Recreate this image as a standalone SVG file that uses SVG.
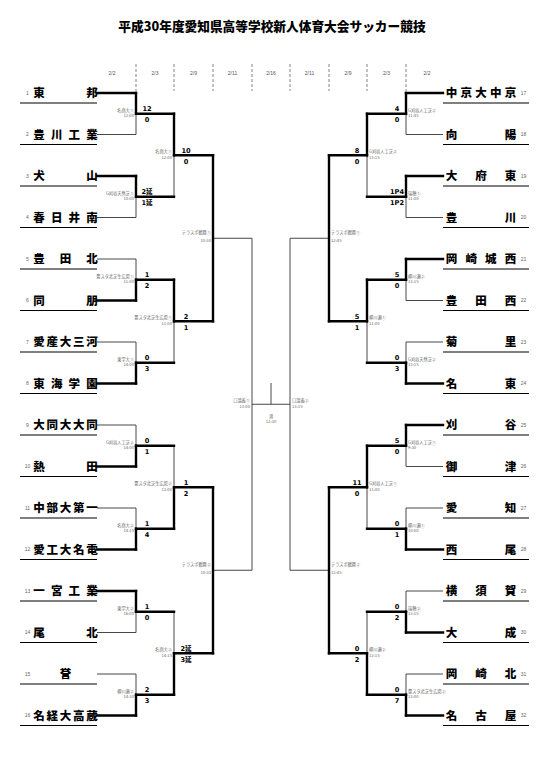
<svg xmlns="http://www.w3.org/2000/svg" width="545" height="757" viewBox="0 0 545 757">
<style>
.ttl{font-family:"Noto Sans CJK JP",sans-serif;font-weight:900;font-size:12.7px;text-anchor:middle;fill:#000}
.dt{font-family:"Liberation Sans",sans-serif;font-size:5px;text-anchor:middle;fill:#555}
.nm{font-family:"Noto Sans CJK JP",sans-serif;font-weight:900;font-size:11.5px;text-anchor:middle;fill:#000}
.no{font-family:"Liberation Sans",sans-serif;font-size:5px;text-anchor:middle;fill:#666}
.sc{font-family:"DejaVu Sans","Noto Sans CJK JP",sans-serif;font-weight:bold;font-size:6.6px;text-anchor:middle;fill:#000}
.vl{font-family:"Noto Sans CJK JP",sans-serif;font-size:4.2px;fill:#666}
.vr{text-anchor:end}
.vc{text-anchor:middle}
.ul{stroke:#000;stroke-width:1.2}
.th{stroke:#000;stroke-width:2.4;stroke-linecap:square;fill:none}
.tn{stroke:#333;stroke-width:0.9;fill:none}
.ds{stroke:#666;stroke-width:0.8;stroke-dasharray:3 2}
</style>
<rect width="545" height="757" fill="#fff"/>
<text class="ttl" x="272" y="31">平成30年度愛知県高等学校新人体育大会サッカー競技</text>
<g id="header">
<g class="ds">
<line x1="136" y1="64" x2="136" y2="91"/><line x1="174" y1="64" x2="174" y2="91"/><line x1="213" y1="64" x2="213" y2="91"/><line x1="252" y1="64" x2="252" y2="91"/><line x1="290" y1="64" x2="290" y2="91"/><line x1="329" y1="64" x2="329" y2="91"/><line x1="367" y1="64" x2="367" y2="91"/><line x1="406" y1="64" x2="406" y2="91"/>
</g>
<text class="dt" x="112" y="75">2/2</text><text class="dt" x="155" y="75">2/3</text><text class="dt" x="193.5" y="75">2/9</text><text class="dt" x="232.5" y="75">2/11</text><text class="dt" x="271" y="75">2/16</text><text class="dt" x="309.5" y="75">2/11</text><text class="dt" x="348" y="75">2/9</text><text class="dt" x="386.5" y="75">2/3</text><text class="dt" x="427" y="75">2/2</text>
</g>
<g id="connectors">
<g class="tn">
<line x1="97" y1="134.5" x2="136" y2="134.5"/><line x1="97" y1="217.5" x2="136" y2="217.5"/><line x1="97" y1="259" x2="136" y2="259"/><line x1="97" y1="342" x2="136" y2="342"/><line x1="97" y1="425" x2="136" y2="425"/><line x1="97" y1="508" x2="136" y2="508"/><line x1="97" y1="632.5" x2="136" y2="632.5"/><line x1="97" y1="674" x2="136" y2="674"/>
<line x1="136" y1="113.75" x2="136" y2="134.5"/><line x1="136" y1="196.75" x2="136" y2="217.5"/><line x1="136" y1="259" x2="136" y2="279.75"/><line x1="136" y1="342" x2="136" y2="362.75"/><line x1="136" y1="425" x2="136" y2="445.75"/><line x1="136" y1="508" x2="136" y2="528.75"/><line x1="136" y1="611.75" x2="136" y2="632.5"/><line x1="136" y1="674" x2="136" y2="694.75"/>
<line x1="174" y1="155.25" x2="174" y2="196.75"/><line x1="174" y1="321.25" x2="174" y2="362.75"/><line x1="174" y1="445.75" x2="174" y2="487.25"/><line x1="174" y1="611.75" x2="174" y2="653.25"/>
<line x1="213" y1="238.25" x2="252" y2="238.25"/><line x1="213" y1="570.25" x2="252" y2="570.25"/>
<line x1="252" y1="238.25" x2="252" y2="570.25"/>
<line x1="252" y1="404.25" x2="290" y2="404.25"/><line x1="271" y1="383" x2="271" y2="404.25"/>
<line x1="290" y1="238.25" x2="290" y2="570.25"/>
<line x1="329" y1="238.25" x2="290" y2="238.25"/><line x1="329" y1="570.25" x2="290" y2="570.25"/>
<line x1="367" y1="155.25" x2="367" y2="196.75"/><line x1="367" y1="321.25" x2="367" y2="362.75"/><line x1="367" y1="487.25" x2="367" y2="528.75"/><line x1="367" y1="611.75" x2="367" y2="653.25"/>
<line x1="406" y1="113.75" x2="406" y2="134.5"/><line x1="406" y1="196.75" x2="406" y2="217.5"/><line x1="406" y1="279.75" x2="406" y2="300.5"/><line x1="406" y1="342" x2="406" y2="362.75"/><line x1="406" y1="445.75" x2="406" y2="466.5"/><line x1="406" y1="508" x2="406" y2="528.75"/><line x1="406" y1="591" x2="406" y2="611.75"/><line x1="406" y1="674" x2="406" y2="694.75"/>
<line x1="443" y1="134.5" x2="406" y2="134.5"/><line x1="443" y1="217.5" x2="406" y2="217.5"/><line x1="443" y1="300.5" x2="406" y2="300.5"/><line x1="443" y1="342" x2="406" y2="342"/><line x1="443" y1="466.5" x2="406" y2="466.5"/><line x1="443" y1="508" x2="406" y2="508"/><line x1="443" y1="591" x2="406" y2="591"/><line x1="443" y1="674" x2="406" y2="674"/>
</g>
<g class="th">
<line x1="97" y1="93" x2="136" y2="93"/><line x1="97" y1="176" x2="136" y2="176"/><line x1="97" y1="300.5" x2="136" y2="300.5"/><line x1="97" y1="383.5" x2="136" y2="383.5"/><line x1="97" y1="466.5" x2="136" y2="466.5"/><line x1="97" y1="549.5" x2="136" y2="549.5"/><line x1="97" y1="591" x2="136" y2="591"/><line x1="97" y1="715.5" x2="136" y2="715.5"/>
<line x1="136" y1="93" x2="136" y2="113.75"/><line x1="136" y1="176" x2="136" y2="196.75"/><line x1="136" y1="279.75" x2="136" y2="300.5"/><line x1="136" y1="362.75" x2="136" y2="383.5"/><line x1="136" y1="445.75" x2="136" y2="466.5"/><line x1="136" y1="528.75" x2="136" y2="549.5"/><line x1="136" y1="591" x2="136" y2="611.75"/><line x1="136" y1="694.75" x2="136" y2="715.5"/>
<line x1="136" y1="113.75" x2="174" y2="113.75"/><line x1="136" y1="196.75" x2="174" y2="196.75"/><line x1="136" y1="279.75" x2="174" y2="279.75"/><line x1="136" y1="362.75" x2="174" y2="362.75"/><line x1="136" y1="445.75" x2="174" y2="445.75"/><line x1="136" y1="528.75" x2="174" y2="528.75"/><line x1="136" y1="611.75" x2="174" y2="611.75"/><line x1="136" y1="694.75" x2="174" y2="694.75"/>
<line x1="174" y1="113.75" x2="174" y2="155.25"/><line x1="174" y1="279.75" x2="174" y2="321.25"/><line x1="174" y1="487.25" x2="174" y2="528.75"/><line x1="174" y1="653.25" x2="174" y2="694.75"/>
<line x1="174" y1="155.25" x2="213" y2="155.25"/><line x1="174" y1="321.25" x2="213" y2="321.25"/><line x1="174" y1="487.25" x2="213" y2="487.25"/><line x1="174" y1="653.25" x2="213" y2="653.25"/>
<line x1="213" y1="155.25" x2="213" y2="321.25"/><line x1="213" y1="487.25" x2="213" y2="653.25"/>
<line x1="329" y1="155.25" x2="329" y2="321.25"/><line x1="329" y1="487.25" x2="329" y2="653.25"/>
<line x1="367" y1="155.25" x2="329" y2="155.25"/><line x1="367" y1="321.25" x2="329" y2="321.25"/><line x1="367" y1="487.25" x2="329" y2="487.25"/><line x1="367" y1="653.25" x2="329" y2="653.25"/>
<line x1="367" y1="113.75" x2="367" y2="155.25"/><line x1="367" y1="279.75" x2="367" y2="321.25"/><line x1="367" y1="445.75" x2="367" y2="487.25"/><line x1="367" y1="653.25" x2="367" y2="694.75"/>
<line x1="406" y1="113.75" x2="367" y2="113.75"/><line x1="406" y1="196.75" x2="367" y2="196.75"/><line x1="406" y1="279.75" x2="367" y2="279.75"/><line x1="406" y1="362.75" x2="367" y2="362.75"/><line x1="406" y1="445.75" x2="367" y2="445.75"/><line x1="406" y1="528.75" x2="367" y2="528.75"/><line x1="406" y1="611.75" x2="367" y2="611.75"/><line x1="406" y1="694.75" x2="367" y2="694.75"/>
<line x1="406" y1="93" x2="406" y2="113.75"/><line x1="406" y1="176" x2="406" y2="196.75"/><line x1="406" y1="259" x2="406" y2="279.75"/><line x1="406" y1="362.75" x2="406" y2="383.5"/><line x1="406" y1="425" x2="406" y2="445.75"/><line x1="406" y1="528.75" x2="406" y2="549.5"/><line x1="406" y1="611.75" x2="406" y2="632.5"/><line x1="406" y1="694.75" x2="406" y2="715.5"/>
<line x1="443" y1="93" x2="406" y2="93"/><line x1="443" y1="176" x2="406" y2="176"/><line x1="443" y1="259" x2="406" y2="259"/><line x1="443" y1="383.5" x2="406" y2="383.5"/><line x1="443" y1="425" x2="406" y2="425"/><line x1="443" y1="549.5" x2="406" y2="549.5"/><line x1="443" y1="632.5" x2="406" y2="632.5"/><line x1="443" y1="715.5" x2="406" y2="715.5"/>
</g>
</g>
<g id="scores">
<text class="sc" x="147" y="111.25">12</text><text class="sc" x="147" y="122.25">0</text>
<text class="sc" x="147" y="194.25">2延</text><text class="sc" x="147" y="205.25">1延</text>
<text class="sc" x="147" y="277.25">1</text><text class="sc" x="147" y="288.25">2</text>
<text class="sc" x="147" y="360.25">0</text><text class="sc" x="147" y="371.25">3</text>
<text class="sc" x="147" y="443.25">0</text><text class="sc" x="147" y="454.25">1</text>
<text class="sc" x="147" y="526.25">1</text><text class="sc" x="147" y="537.25">4</text>
<text class="sc" x="147" y="609.25">1</text><text class="sc" x="147" y="620.25">0</text>
<text class="sc" x="147" y="692.25">2</text><text class="sc" x="147" y="703.25">3</text>
<text class="sc" x="186" y="152.75">10</text><text class="sc" x="186" y="163.75">0</text>
<text class="sc" x="186" y="318.75">2</text><text class="sc" x="186" y="329.75">1</text>
<text class="sc" x="186" y="484.75">1</text><text class="sc" x="186" y="495.75">2</text>
<text class="sc" x="186" y="650.75">2延</text><text class="sc" x="186" y="661.75">3延</text>
<text class="sc" x="397" y="111.25">4</text><text class="sc" x="397" y="122.25">0</text>
<text class="sc" x="397" y="194.25">1P4</text><text class="sc" x="397" y="205.25">1P2</text>
<text class="sc" x="397" y="277.25">5</text><text class="sc" x="397" y="288.25">0</text>
<text class="sc" x="397" y="360.25">0</text><text class="sc" x="397" y="371.25">3</text>
<text class="sc" x="397" y="443.25">5</text><text class="sc" x="397" y="454.25">0</text>
<text class="sc" x="397" y="526.25">0</text><text class="sc" x="397" y="537.25">1</text>
<text class="sc" x="397" y="609.25">0</text><text class="sc" x="397" y="620.25">2</text>
<text class="sc" x="397" y="692.25">0</text><text class="sc" x="397" y="703.25">7</text>
<text class="sc" x="357" y="152.75">8</text><text class="sc" x="357" y="163.75">0</text>
<text class="sc" x="357" y="318.75">5</text><text class="sc" x="357" y="329.75">1</text>
<text class="sc" x="357" y="484.75">11</text><text class="sc" x="357" y="495.75">0</text>
<text class="sc" x="357" y="650.75">0</text><text class="sc" x="357" y="661.75">2</text>
</g>
<g id="venues" class="vl">
<text class="vr" x="134" y="111.75">名商大①</text><text class="vr" x="134" y="117.25">12:00</text>
<text class="vr" x="134" y="194.75">G刈谷天然芝①</text><text class="vr" x="134" y="200.25">10:00</text>
<text class="vr" x="134" y="277.75">豊スタ北芝生広場①</text><text class="vr" x="134" y="283.25">11:00</text>
<text class="vr" x="134" y="360.75">東学大①</text><text class="vr" x="134" y="366.25">14:00</text>
<text class="vr" x="134" y="443.75">G刈谷人工芝②</text><text class="vr" x="134" y="449.25">14:00</text>
<text class="vr" x="134" y="526.75">名商大②</text><text class="vr" x="134" y="532.25">14:15</text>
<text class="vr" x="134" y="609.75">東学大②</text><text class="vr" x="134" y="615.25">16:00</text>
<text class="vr" x="134" y="692.75">柳川瀬②</text><text class="vr" x="134" y="698.25">14:30</text>
<text class="vr" x="172" y="153.25">名商大①</text><text class="vr" x="172" y="158.75">12:00</text>
<text class="vr" x="172" y="319.25">豊スタ北芝生広場①</text><text class="vr" x="172" y="324.75">11:00</text>
<text class="vr" x="172" y="485.25">豊スタ北芝生広場②</text><text class="vr" x="172" y="490.75">13:00</text>
<text class="vr" x="172" y="651.25">名商大②</text><text class="vr" x="172" y="656.75">14:15</text>
<text class="vr" x="211" y="234.25">テラスポ鶴舞①</text><text class="vr" x="211" y="241.75">10:30</text>
<text class="vr" x="211" y="566.25">テラスポ鶴舞②</text><text class="vr" x="211" y="573.75">10:30</text>
<text class="vr" x="250" y="402">口論義①</text><text class="vr" x="250" y="408">11:00</text>
<text class="vc" x="271" y="417.5">港</text><text class="vc" x="271" y="423">12:30</text>
<text x="292" y="402">口論義②</text><text x="292" y="408">13:15</text>
<text x="331" y="234.25">テラスポ鶴舞①</text><text x="331" y="241.75">12:45</text>
<text x="331" y="566.25">テラスポ鶴舞②</text><text x="331" y="573.75">12:45</text>
<text x="369" y="153.25">G刈谷人工芝②</text><text x="369" y="158.75">13:15</text>
<text x="369" y="319.25">柳川瀬①</text><text x="369" y="324.75">11:00</text>
<text x="369" y="485.25">G刈谷人工芝①</text><text x="369" y="490.75">11:00</text>
<text x="369" y="651.25">柳川瀬②</text><text x="369" y="656.75">13:15</text>
<text x="408" y="111.75">G刈谷人工芝②</text><text x="408" y="117.25">11:45</text>
<text x="408" y="194.75">瑞穂①</text><text x="408" y="200.25">11:00</text>
<text x="408" y="277.75">柳川瀬②</text><text x="408" y="283.25">13:15</text>
<text x="408" y="360.75">G刈谷天然芝②</text><text x="408" y="366.25">13:15</text>
<text x="408" y="443.75">G刈谷人工芝①</text><text x="408" y="449.25">9:30</text>
<text x="408" y="526.75">柳川瀬①</text><text x="408" y="532.25">10:00</text>
<text x="408" y="609.75">瑞穂②</text><text x="408" y="615.25">13:15</text>
<text x="408" y="692.75">豊スタ北芝生広場②</text><text x="408" y="698.25">13:00</text>
</g>
<g id="t1"><text class="no" x="27.5" y="94.8">1</text><text class="nm" x="39 92" y="97">東邦</text><line class="ul" x1="20" y1="103" x2="97" y2="103"/></g>
<g id="t2"><text class="no" x="27.5" y="136.3">2</text><text class="nm" x="39 56.67 74.33 92" y="138.5">豊川工業</text><line class="ul" x1="20" y1="144.5" x2="97" y2="144.5"/></g>
<g id="t3"><text class="no" x="27.5" y="177.8">3</text><text class="nm" x="39 92" y="180">犬山</text><line class="ul" x1="20" y1="186" x2="97" y2="186"/></g>
<g id="t4"><text class="no" x="27.5" y="219.3">4</text><text class="nm" x="39 56.67 74.33 92" y="221.5">春日井南</text><line class="ul" x1="20" y1="227.5" x2="97" y2="227.5"/></g>
<g id="t5"><text class="no" x="27.5" y="260.8">5</text><text class="nm" x="39 65.5 92" y="263">豊田北</text><line class="ul" x1="20" y1="269" x2="97" y2="269"/></g>
<g id="t6"><text class="no" x="27.5" y="302.3">6</text><text class="nm" x="39 92" y="304.5">同朋</text><line class="ul" x1="20" y1="310.5" x2="97" y2="310.5"/></g>
<g id="t7"><text class="no" x="27.5" y="343.8">7</text><text class="nm" x="39 52.25 65.5 78.75 92" y="346">愛産大三河</text><line class="ul" x1="20" y1="352" x2="97" y2="352"/></g>
<g id="t8"><text class="no" x="27.5" y="385.3">8</text><text class="nm" x="39 56.67 74.33 92" y="387.5">東海学園</text><line class="ul" x1="20" y1="393.5" x2="97" y2="393.5"/></g>
<g id="t9"><text class="no" x="27.5" y="426.8">9</text><text class="nm" x="39 52.25 65.5 78.75 92" y="429">大同大大同</text><line class="ul" x1="20" y1="435" x2="97" y2="435"/></g>
<g id="t10"><text class="no" x="27.5" y="468.3">10</text><text class="nm" x="39 92" y="470.5">熱田</text><line class="ul" x1="20" y1="476.5" x2="97" y2="476.5"/></g>
<g id="t11"><text class="no" x="27.5" y="509.8">11</text><text class="nm" x="39 52.25 65.5 78.75 92" y="512">中部大第一</text><line class="ul" x1="20" y1="518" x2="97" y2="518"/></g>
<g id="t12"><text class="no" x="27.5" y="551.3">12</text><text class="nm" x="39 52.25 65.5 78.75 92" y="553.5">愛工大名電</text><line class="ul" x1="20" y1="559.5" x2="97" y2="559.5"/></g>
<g id="t13"><text class="no" x="27.5" y="592.8">13</text><text class="nm" x="39 56.67 74.33 92" y="595">一宮工業</text><line class="ul" x1="20" y1="601" x2="97" y2="601"/></g>
<g id="t14"><text class="no" x="27.5" y="634.3">14</text><text class="nm" x="39 92" y="636.5">尾北</text><line class="ul" x1="20" y1="642.5" x2="97" y2="642.5"/></g>
<g id="t15"><text class="no" x="27.5" y="675.8">15</text><text class="nm" x="65.5" y="678">誉</text><line class="ul" x1="20" y1="684" x2="97" y2="684"/></g>
<g id="t16"><text class="no" x="27.5" y="717.3">16</text><text class="nm" x="39 52.25 65.5 78.75 92" y="719.5">名経大高蔵</text><line class="ul" x1="20" y1="725.5" x2="97" y2="725.5"/></g>
<g id="t17"><text class="nm" x="451.5 466.25 481 495.75 510.5" y="97">中京大中京</text><text class="no" x="523.5" y="94.8">17</text><line class="ul" x1="443" y1="103" x2="529" y2="103"/></g>
<g id="t18"><text class="nm" x="451.5 510.5" y="138.5">向陽</text><text class="no" x="523.5" y="136.3">18</text><line class="ul" x1="443" y1="144.5" x2="529" y2="144.5"/></g>
<g id="t19"><text class="nm" x="451.5 481 510.5" y="180">大府東</text><text class="no" x="523.5" y="177.8">19</text><line class="ul" x1="443" y1="186" x2="529" y2="186"/></g>
<g id="t20"><text class="nm" x="451.5 510.5" y="221.5">豊川</text><text class="no" x="523.5" y="219.3">20</text><line class="ul" x1="443" y1="227.5" x2="529" y2="227.5"/></g>
<g id="t21"><text class="nm" x="451.5 471.17 490.83 510.5" y="263">岡崎城西</text><text class="no" x="523.5" y="260.8">21</text><line class="ul" x1="443" y1="269" x2="529" y2="269"/></g>
<g id="t22"><text class="nm" x="451.5 481 510.5" y="304.5">豊田西</text><text class="no" x="523.5" y="302.3">22</text><line class="ul" x1="443" y1="310.5" x2="529" y2="310.5"/></g>
<g id="t23"><text class="nm" x="451.5 510.5" y="346">菊里</text><text class="no" x="523.5" y="343.8">23</text><line class="ul" x1="443" y1="352" x2="529" y2="352"/></g>
<g id="t24"><text class="nm" x="451.5 510.5" y="387.5">名東</text><text class="no" x="523.5" y="385.3">24</text><line class="ul" x1="443" y1="393.5" x2="529" y2="393.5"/></g>
<g id="t25"><text class="nm" x="451.5 510.5" y="429">刈谷</text><text class="no" x="523.5" y="426.8">25</text><line class="ul" x1="443" y1="435" x2="529" y2="435"/></g>
<g id="t26"><text class="nm" x="451.5 510.5" y="470.5">御津</text><text class="no" x="523.5" y="468.3">26</text><line class="ul" x1="443" y1="476.5" x2="529" y2="476.5"/></g>
<g id="t27"><text class="nm" x="451.5 510.5" y="512">愛知</text><text class="no" x="523.5" y="509.8">27</text><line class="ul" x1="443" y1="518" x2="529" y2="518"/></g>
<g id="t28"><text class="nm" x="451.5 510.5" y="553.5">西尾</text><text class="no" x="523.5" y="551.3">28</text><line class="ul" x1="443" y1="559.5" x2="529" y2="559.5"/></g>
<g id="t29"><text class="nm" x="451.5 481 510.5" y="595">横須賀</text><text class="no" x="523.5" y="592.8">29</text><line class="ul" x1="443" y1="601" x2="529" y2="601"/></g>
<g id="t30"><text class="nm" x="451.5 510.5" y="636.5">大成</text><text class="no" x="523.5" y="634.3">30</text><line class="ul" x1="443" y1="642.5" x2="529" y2="642.5"/></g>
<g id="t31"><text class="nm" x="451.5 481 510.5" y="678">岡崎北</text><text class="no" x="523.5" y="675.8">31</text><line class="ul" x1="443" y1="684" x2="529" y2="684"/></g>
<g id="t32"><text class="nm" x="451.5 481 510.5" y="719.5">名古屋</text><text class="no" x="523.5" y="717.3">32</text><line class="ul" x1="443" y1="725.5" x2="529" y2="725.5"/></g>
</svg>
